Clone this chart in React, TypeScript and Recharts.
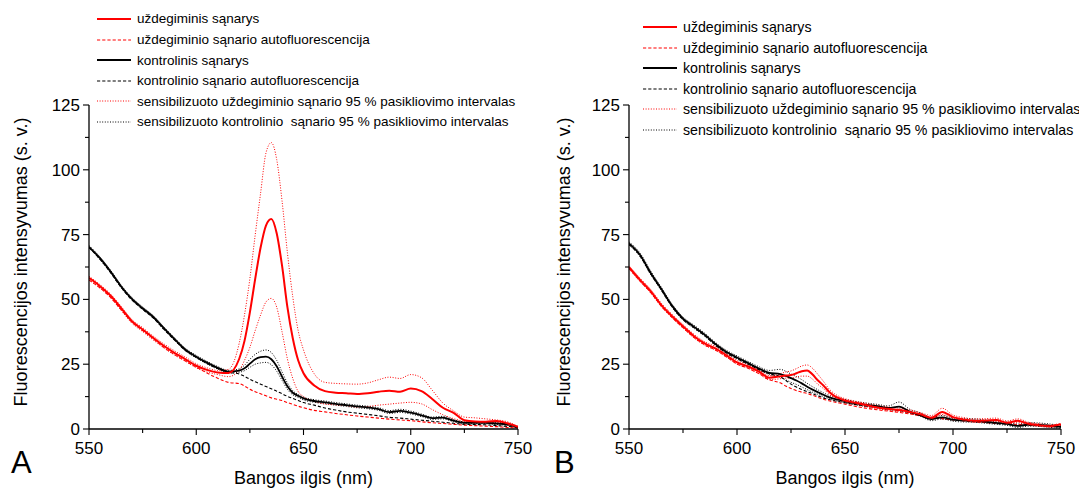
import React from 'react';
import { LineChart, Line, XAxis, YAxis, Legend } from 'recharts';

// Wavelength grid (nm), denser around the 635 nm emission peak
const wavelengths = [
  550, 555, 560, 565, 570, 575, 580, 585, 590, 595, 600, 605, 610, 615, 620, 622.5, 625, 627.5, 630, 632.5,
  635, 637.5, 640, 642.5, 645, 647.5, 650, 655, 660, 665, 670, 675, 680, 685, 690, 695, 700, 705, 710, 715,
  720, 725, 730, 735, 740, 745, 750,
];

const xTicks = [550, 575, 600, 625, 650, 675, 700, 725, 750];
const yTicks = [0, 12.5, 25, 37.5, 50, 62.5, 75, 87.5, 100, 112.5, 125];

// ---- Panel A ----
const aInflamed = [
  58.3, 55.2, 51.5, 46.6, 41.6, 38.4, 35.1, 32, 29.3, 26.9, 24.4, 22.8, 21.8, 21.6, 27, 34, 45, 58, 70, 78.5,
  81, 75.5, 63, 47, 35, 26.5, 21.5, 16.8, 14.6, 14, 13.8, 13.5, 13.8, 14.4, 14.8, 14.4, 15.6, 14.6, 11.6, 8.2,
  6.2, 3.4, 2.9, 2.8, 3.1, 2.2, 0.8,
];
const aInflamedHi = [
  58.9, 55.8, 52.1, 47.3, 42.2, 39.1, 35.8, 32.8, 30.1, 27.7, 25.2, 23.6, 22.6, 23, 33, 44, 58, 75, 91, 106.5,
  110.5, 104, 88, 68, 51, 38, 30.5, 21.3, 18, 17.6, 17.4, 17.3, 17.8, 19, 20, 19.5, 21, 19.8, 15, 10,
  7, 4.6, 4.3, 3.9, 3.5, 2.8, 1,
];
const aInflamedLo = [
  57.5, 54.4, 50.7, 45.8, 40.8, 37.6, 34.3, 31.2, 28.5, 26.1, 23.6, 22, 21, 20.2, 22.6, 26.5, 31.5, 38, 44, 49,
  50.4, 47, 37.5, 27, 19.5, 14.5, 12.5, 10.7, 9.6, 9.3, 9, 8.5, 8.7, 9.2, 9.6, 10, 10.3, 9.7, 7.5, 5.5,
  4, 2.9, 2.6, 2.4, 2.4, 1.5, 0.6,
];
const aInflamedAuto = [
  57.5, 54.5, 50.8, 46, 41.3, 38, 34.8, 31.4, 28.6, 26.2, 23.9, 21.6, 19.6, 18, 17.5, 16.6, 15.3, 14.4, 13.6, 12.8,
  12, 11.5, 11, 10.2, 9.5, 8.8, 8.2, 7.2, 6.6, 6, 5.5, 5, 4.6, 4.2, 3.8, 3.5, 3.2, 2.8, 2.4, 2.1,
  1.8, 1.5, 1.3, 1.1, 0.9, 0.6, 0.4,
];
const aControl = [
  70.3, 66, 60.8, 55, 50.2, 46.6, 43.2, 38.8, 34.6, 30.6, 27.9, 25.6, 23.6, 22.1, 22.5, 23.4, 25.2, 26.9, 27.7, 27.9,
  26.9, 24.2, 20.2, 16.5, 14, 12.8, 11.8, 10.8, 10.3, 9.7, 9.2, 8.7, 8.3, 7.7, 6.5, 7, 6.3, 5.3, 4.2, 4.4,
  3.2, 2.4, 2.4, 2.4, 2.1, 1.8, 0.6,
];
const aControlHi = [
  70.8, 66.5, 61.3, 55.5, 50.7, 47.1, 43.7, 39.3, 35.1, 31.1, 28.4, 26.1, 24.1, 22.6, 23.2, 24.6, 26.9, 28.8, 30, 30.5,
  29.5, 26.5, 22, 17.8, 14.8, 13.3, 12.3, 11.3, 10.8, 10.2, 9.7, 9.2, 8.8, 8.2, 7.1, 7.6, 6.9, 5.8, 4.6, 4.9,
  3.6, 2.8, 2.8, 2.8, 2.5, 2.2, 0.9,
];
const aControlLo = [
  69.8, 65.5, 60.3, 54.5, 49.7, 46.1, 42.7, 38.3, 34.1, 30.1, 27.4, 25.1, 23.1, 21.6, 21.9, 22.5, 23.8, 25, 25.5, 25.7,
  24.8, 22.3, 18.8, 15.3, 13.2, 12.2, 11.2, 10.3, 9.8, 9.2, 8.7, 8.2, 7.8, 7.2, 6, 6.4, 5.8, 4.8, 3.7, 3.9,
  2.8, 2, 2, 2, 1.7, 1.4, 0.4,
];
const aControlAuto = [
  70, 65.6, 60.4, 54.6, 49.8, 46.2, 42.8, 38.4, 34.2, 30.3, 27.6, 25.3, 23.3, 21.9, 21.2, 20.3, 19.2, 18.2, 17.3, 16.4,
  15.5, 14.6, 13.6, 12.6, 11.8, 11, 10.2, 9.2, 8.1, 7.3, 6.6, 6.1, 5.6, 5.1, 4.5, 4.2, 3.8, 3.4, 3, 2.6,
  2.2, 1.8, 1.7, 1.6, 1.3, 1, 0.6,
];

// ---- Panel B ----
const bInflamed = [
  62.4, 57.6, 53.2, 47.8, 43.5, 39.6, 35.9, 33, 31.1, 28.5, 25.7, 24.2, 22.2, 19.8, 20.3, 20.6, 20.8, 21.5, 22.3, 22.6,
  21, 18.7, 16.8, 14.5, 12.8, 11.8, 11, 10.1, 9.2, 8.3, 7.8, 7.3, 6.6, 5.7, 4.3, 6.6, 4.6, 3.7, 3.2, 3.3,
  3.5, 2.4, 3.2, 2, 1.4, 1.1, 1.8,
];
const bInflamedHi = [
  63, 58.3, 53.9, 48.5, 44.2, 40.3, 36.6, 33.7, 31.8, 29.2, 26.4, 24.9, 22.9, 20.6, 21.3, 22, 22.4, 23.3, 24.3, 24.7,
  23.4, 21, 18.4, 15.6, 13.7, 12.5, 11.7, 10.7, 9.9, 9.1, 8.5, 8, 7.4, 6.3, 5.2, 8, 5.4, 4.4, 3.9, 4,
  4.2, 3.1, 3.9, 2.6, 2, 1.6, 2.2,
];
const bInflamedLo = [
  61.8, 56.9, 52.5, 47.1, 42.8, 38.9, 35.2, 32.3, 30.4, 27.8, 25, 23.5, 21.5, 19, 19.4, 19.6, 19.6, 20.1, 20.4, 20.4,
  19.2, 17.2, 15.6, 13.5, 12, 11, 10.2, 9.4, 8.6, 7.8, 7.2, 6.7, 6.2, 5, 3.8, 5.6, 4, 3.1, 2.6, 2.7,
  2.9, 2, 2.6, 1.5, 1, 0.7, 1.3,
];
const bInflamedAuto = [
  62, 57.2, 52.7, 47.4, 43, 39.1, 35.4, 32.5, 30.5, 27.9, 25.1, 23.5, 21.4, 19, 17.8, 16.6, 15.6, 14.8, 14.2, 13.7,
  13, 12.2, 11.5, 10.9, 10.4, 10, 9.6, 8.7, 8, 7.4, 6.9, 6.4, 5.8, 5.1, 4.5, 4, 3.6, 3.2, 2.8, 2.5,
  2.3, 2, 1.7, 1.5, 1.3, 1.1, 1,
];
const bControl = [
  71.6, 67.3, 60.3, 54, 47.5, 42.6, 39.5, 36.4, 32.8, 29.8, 27.6, 25.5, 23.4, 21.7, 21.2, 20.5, 19.6, 18.7, 17.6, 16.3,
  15.2, 14.2, 13.2, 12.3, 11.6, 11.2, 10.7, 9.9, 9.3, 8.8, 8.1, 8.6, 6.7, 5.2, 3.8, 4.5, 3.6, 3.3, 3.2, 2.8,
  2.4, 2, 1.2, 1.7, 1.6, 1.2, 0.8,
];
const bControlHi = [
  72.2, 68, 61, 54.6, 48.1, 43.2, 40.1, 37, 33.4, 30.4, 28.2, 26.1, 24.1, 22.6, 23, 22.3, 21.2, 20.2, 19, 17.6,
  16.3, 15.1, 14, 13, 12.3, 11.9, 11.4, 10.6, 10, 9.5, 8.9, 10.4, 7.6, 6.2, 4.5, 5.2, 4.3, 4, 3.9, 3.5,
  3.1, 2.7, 1.9, 2.4, 2.3, 1.9, 1.4,
];
const bControlLo = [
  71, 66.6, 59.6, 53.4, 46.9, 42, 38.9, 35.8, 32.2, 29.2, 27, 24.9, 22.8, 21, 20, 19, 18, 17.2, 16.2, 15.2,
  14.2, 13.4, 12.5, 11.7, 11, 10.6, 10.1, 9.3, 8.7, 8.2, 7.5, 7.6, 6.1, 4.9, 3.2, 3.9, 3, 2.7, 2.6, 2.2,
  1.8, 1.4, 0.6, 1.1, 1, 0.6, 0.3,
];
const bControlAuto = [
  71.2, 66.9, 59.9, 53.6, 47.1, 42.2, 39.1, 36, 32.4, 29.4, 27.2, 25.1, 23, 21.3, 20.2, 18.8, 17.3, 16.2, 15.2, 14.4,
  13.6, 12.8, 12, 11.4, 10.9, 10.5, 10.1, 9.4, 8.8, 8.2, 7.6, 7.1, 6.3, 5.4, 4.2, 4, 3.5, 3.1, 2.8, 2.5,
  2.1, 1.8, 1.3, 1.4, 1.3, 1, 0.7,
];

const FONT = '"Liberation Sans", Arial, Helvetica, sans-serif';
const RED = '#ff0000';
const BLACK = '#000000';
const DASH = '3.2 2';
const DOT = '1 1.6';

type SeriesStyle = { color: string; width: number; dash?: string };

const styles: Record<string, SeriesStyle> = {
  inflamed: { color: RED, width: 2 },
  inflamedAuto: { color: RED, width: 1.1, dash: DASH },
  control: { color: BLACK, width: 1.8 },
  controlAuto: { color: BLACK, width: 1.1, dash: DASH },
  inflamedCi: { color: RED, width: 1, dash: DOT },
  controlCi: { color: BLACK, width: 1, dash: DOT },
};

const legendItems: { label: string; style: SeriesStyle }[] = [
  { label: 'uždegiminis sąnarys', style: styles.inflamed },
  { label: 'uždegiminio sąnario autofluorescencija', style: styles.inflamedAuto },
  { label: 'kontrolinis sąnarys', style: styles.control },
  { label: 'kontrolinio sąnario autofluorescencija', style: styles.controlAuto },
  { label: 'sensibilizuoto uždegiminio sąnario 95 % pasikliovimo intervalas', style: styles.inflamedCi },
  { label: 'sensibilizuoto kontrolinio  sąnario 95 % pasikliovimo intervalas', style: styles.controlCi },
];

type Row = { nm: number; inflamed: number; inflamedHi: number; inflamedLo: number; inflamedAuto: number; control: number; controlHi: number; controlLo: number; controlAuto: number };

const buildRows = (s: number[][]): Row[] =>
  wavelengths.map((nm, i) => ({
    nm,
    inflamed: s[0][i],
    inflamedHi: s[1][i],
    inflamedLo: s[2][i],
    inflamedAuto: s[3][i],
    control: s[4][i],
    controlHi: s[5][i],
    controlLo: s[6][i],
    controlAuto: s[7][i],
  }));

const panelA = buildRows([aInflamed, aInflamedHi, aInflamedLo, aInflamedAuto, aControl, aControlHi, aControlLo, aControlAuto]);
const panelB = buildRows([bInflamed, bInflamedHi, bInflamedLo, bInflamedAuto, bControl, bControlHi, bControlLo, bControlAuto]);

const TICK_FONT = 17;

const XTick = (props: any) => {
  const { x, y, payload } = props;
  const major = payload.value % 50 === 0;
  return (
    <g>
      <line x1={x} x2={x} y1={y} y2={y + (major ? 6 : 4)} stroke="#000" strokeWidth={1.1} />
      {major && (
        <text x={x} y={y + 25} textAnchor="middle" fontSize={TICK_FONT} fontFamily={FONT} fill="#000">
          {payload.value}
        </text>
      )}
    </g>
  );
};

const YTick = (props: any) => {
  const { x, y, payload } = props;
  const major = payload.value % 25 === 0;
  return (
    <g>
      <line x1={x} x2={x - (major ? 6 : 4)} y1={y} y2={y} stroke="#000" strokeWidth={1.1} />
      {major && (
        <text x={x - 9} y={y + 6} textAnchor="end" fontSize={TICK_FONT} fontFamily={FONT} fill="#000">
          {payload.value}
        </text>
      )}
    </g>
  );
};

const LegendList = ({ fontSize }: { fontSize: number }) => (
  <div style={{ fontFamily: FONT, fontSize, color: '#000' }}>
    {legendItems.map((it) => (
      <div key={it.label} style={{ display: 'flex', alignItems: 'center', height: 20.6, whiteSpace: 'pre' }}>
        <svg width={34} height={4} style={{ display: 'block' }}>
          <line x1={0} x2={34} y1={2} y2={2} stroke={it.style.color} strokeWidth={it.style.width} strokeDasharray={it.style.dash} />
        </svg>
        <span style={{ marginLeft: 6 }}>{it.label}</span>
      </div>
    ))}
  </div>
);

type PanelProps = { data: Row[]; width: number; right: number; legendLeft: number; legendTop: number; legendFont: number };

const Panel = ({ data, width, right, legendLeft, legendTop, legendFont }: PanelProps) => {
  const line = (key: keyof Row, st: SeriesStyle) => (
    <Line
      key={key}
      type="monotone"
      dataKey={key}
      stroke={st.color}
      strokeWidth={st.width}
      strokeDasharray={st.dash}
      dot={false}
      activeDot={false}
      isAnimationActive={false}
      legendType="none"
    />
  );
  return (
    <LineChart width={width} height={490} data={data} margin={{ top: 105, right, bottom: 0, left: 0 }}>
      <XAxis
        dataKey="nm"
        type="number"
        domain={[550, 750]}
        ticks={xTicks}
        interval={0}
        tick={<XTick />}
        tickLine={false}
        tickSize={0}
        tickMargin={0}
        height={61}
        axisLine={{ stroke: '#000', strokeWidth: 1.3 }}
        allowDataOverflow
      />
      <YAxis
        type="number"
        domain={[0, 125]}
        ticks={yTicks}
        interval={0}
        tick={<YTick />}
        tickLine={false}
        tickSize={0}
        tickMargin={0}
        width={89}
        axisLine={{ stroke: '#000', strokeWidth: 1.3 }}
        allowDataOverflow
      />
      <Legend
        layout="vertical"
        align="center"
        verticalAlign="middle"
        wrapperStyle={{ position: 'absolute', left: legendLeft, top: legendTop, width: 440, height: 'auto' }}
        content={() => <LegendList fontSize={legendFont} />}
      />
      {line('controlHi', styles.controlCi)}
      {line('controlLo', styles.controlCi)}
      {line('inflamedHi', styles.inflamedCi)}
      {line('inflamedLo', styles.inflamedCi)}
      {line('controlAuto', styles.controlAuto)}
      {line('inflamedAuto', styles.inflamedAuto)}
      {line('control', styles.control)}
      {line('inflamed', styles.inflamed)}
    </LineChart>
  );
};

const abs = (style: React.CSSProperties): React.CSSProperties => ({ position: 'absolute', whiteSpace: 'nowrap', ...style });

export default function App() {
  return (
    <div style={{ position: 'fixed', left: 0, top: 0, width: 1079, height: 490, background: '#fff', overflow: 'hidden', fontFamily: FONT, color: '#000' }}>
      <div style={abs({ left: 0, top: 0 })}>
        <Panel data={panelA} width={540} right={22} legendLeft={97} legendTop={8.7} legendFont={13.5} />
      </div>
      <div style={abs({ left: 540, top: 0 })}>
        <Panel data={panelB} width={539} right={18} legendLeft={103} legendTop={16.7} legendFont={14.2} />
      </div>

      <div style={abs({ left: 21, top: 262, fontSize: 18, transform: 'translate(-50%, -50%) rotate(-90deg)' })}>
        Fluorescencijos intensyvumas (s. v.)
      </div>
      <div style={abs({ left: 564, top: 262, fontSize: 18, transform: 'translate(-50%, -50%) rotate(-90deg)' })}>
        Fluorescencijos intensyvumas (s. v.)
      </div>
      <div style={abs({ left: 303.5, top: 478, fontSize: 18, transform: 'translate(-50%, -50%)' })}>Bangos ilgis (nm)</div>
      <div style={abs({ left: 845, top: 478, fontSize: 18, transform: 'translate(-50%, -50%)' })}>Bangos ilgis (nm)</div>
      <div style={abs({ left: 11, top: 462, fontSize: 31, lineHeight: 1, transform: 'translate(0, -50%)' })}>A</div>
      <div style={abs({ left: 554, top: 462, fontSize: 31, lineHeight: 1, transform: 'translate(0, -50%)' })}>B</div>
    </div>
  );
}
